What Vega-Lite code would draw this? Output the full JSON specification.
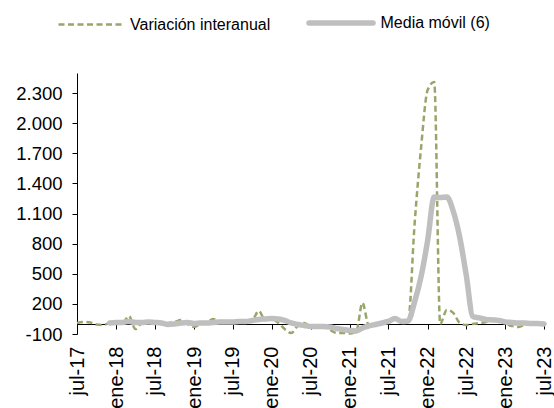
{
 "$schema": "https://vega.github.io/schema/vega-lite/v6.json",
 "width": 467, "height": 261,
 "autosize": "none",
 "padding": {"left": 77, "top": 73, "right": 10, "bottom": 74},
 "config": {"view": {"stroke": null}, "font": "Liberation Sans"},
 "datasets": {
  "var": [
   {"d":"2017-07-01","v":10},{"d":"2017-08-01","v":20},{"d":"2017-09-01","v":15},{"d":"2017-10-01","v":-5},{"d":"2017-11-01","v":-10},{"d":"2017-12-01","v":10},
   {"d":"2018-01-01","v":20},{"d":"2018-02-01","v":10},{"d":"2018-03-01","v":80},{"d":"2018-04-01","v":-50},{"d":"2018-05-01","v":10},{"d":"2018-06-01","v":20},
   {"d":"2018-07-01","v":10},{"d":"2018-08-01","v":0},{"d":"2018-09-01","v":10},{"d":"2018-10-01","v":20},{"d":"2018-11-01","v":40},{"d":"2018-12-01","v":0},
   {"d":"2019-01-01","v":-30},{"d":"2019-02-01","v":0},{"d":"2019-03-01","v":10},{"d":"2019-04-01","v":50},{"d":"2019-05-01","v":20},{"d":"2019-06-01","v":30},
   {"d":"2019-07-01","v":10},{"d":"2019-08-01","v":20},{"d":"2019-09-01","v":30},{"d":"2019-10-01","v":40},{"d":"2019-11-01","v":130},{"d":"2019-12-01","v":40},
   {"d":"2020-01-01","v":50},{"d":"2020-02-01","v":10},{"d":"2020-03-01","v":-50},{"d":"2020-04-01","v":-90},{"d":"2020-05-01","v":-20},{"d":"2020-06-01","v":10},
   {"d":"2020-07-01","v":-20},{"d":"2020-08-01","v":-20},{"d":"2020-09-01","v":-30},{"d":"2020-10-01","v":-60},{"d":"2020-11-01","v":-90},{"d":"2020-12-01","v":-90},
   {"d":"2021-01-01","v":-95},{"d":"2021-02-01","v":-70},{"d":"2021-03-01","v":210},{"d":"2021-04-01","v":-20},{"d":"2021-05-01","v":0},{"d":"2021-06-01","v":20},
   {"d":"2021-07-01","v":40},{"d":"2021-08-01","v":60},{"d":"2021-09-01","v":20},{"d":"2021-10-01","v":20},{"d":"2021-11-01","v":1000},{"d":"2021-12-01","v":1750},
   {"d":"2022-01-01","v":2330},{"d":"2022-02-01","v":2410},{"d":"2022-03-01","v":0},{"d":"2022-04-01","v":140},{"d":"2022-05-01","v":110},{"d":"2022-06-01","v":10},
   {"d":"2022-07-01","v":-10},{"d":"2022-08-01","v":0},{"d":"2022-09-01","v":10},{"d":"2022-10-01","v":20},{"d":"2022-11-01","v":50},{"d":"2022-12-01","v":40},
   {"d":"2023-01-01","v":0},{"d":"2023-02-01","v":-20},{"d":"2023-03-01","v":-30},{"d":"2023-04-01","v":-10},{"d":"2023-05-01","v":0},{"d":"2023-06-01","v":10},
   {"d":"2023-07-01","v":0}
  ],
  "mm": [
   {"d":"2017-12-01","v":10},
   {"d":"2018-01-01","v":15},{"d":"2018-02-01","v":15},{"d":"2018-03-01","v":25},{"d":"2018-04-01","v":15},{"d":"2018-05-01","v":15},{"d":"2018-06-01","v":20},
   {"d":"2018-07-01","v":15},{"d":"2018-08-01","v":10},{"d":"2018-09-01","v":-5},{"d":"2018-10-01","v":0},{"d":"2018-11-01","v":10},{"d":"2018-12-01","v":15},
   {"d":"2019-01-01","v":5},{"d":"2019-02-01","v":10},{"d":"2019-03-01","v":10},{"d":"2019-04-01","v":15},{"d":"2019-05-01","v":20},{"d":"2019-06-01","v":20},
   {"d":"2019-07-01","v":20},{"d":"2019-08-01","v":25},{"d":"2019-09-01","v":25},{"d":"2019-10-01","v":35},{"d":"2019-11-01","v":45},{"d":"2019-12-01","v":50},
   {"d":"2020-01-01","v":55},{"d":"2020-02-01","v":50},{"d":"2020-03-01","v":35},{"d":"2020-04-01","v":10},{"d":"2020-05-01","v":-5},{"d":"2020-06-01","v":-15},
   {"d":"2020-07-01","v":-25},{"d":"2020-08-01","v":-25},{"d":"2020-09-01","v":-25},{"d":"2020-10-01","v":-30},{"d":"2020-11-01","v":-45},{"d":"2020-12-01","v":-55},
   {"d":"2021-01-01","v":-65},{"d":"2021-02-01","v":-70},{"d":"2021-03-01","v":-40},{"d":"2021-04-01","v":-20},{"d":"2021-05-01","v":-5},{"d":"2021-06-01","v":10},
   {"d":"2021-07-01","v":25},{"d":"2021-08-01","v":55},{"d":"2021-09-01","v":25},{"d":"2021-10-01","v":30},{"d":"2021-11-01","v":220},{"d":"2021-12-01","v":470},
   {"d":"2022-01-01","v":830},{"d":"2022-02-01","v":1265},{"d":"2022-03-01","v":1260},{"d":"2022-04-01","v":1265},{"d":"2022-05-01","v":1125},{"d":"2022-06-01","v":860},
   {"d":"2022-07-01","v":490},{"d":"2022-08-01","v":75},{"d":"2022-09-01","v":60},{"d":"2022-10-01","v":45},{"d":"2022-11-01","v":40},{"d":"2022-12-01","v":35},
   {"d":"2023-01-01","v":20},{"d":"2023-02-01","v":15},{"d":"2023-03-01","v":10},{"d":"2023-04-01","v":10},{"d":"2023-05-01","v":5},{"d":"2023-06-01","v":5},
   {"d":"2023-07-01","v":0}
  ]
 },
 "encoding": {
  "x": {
   "field": "d", "type": "temporal",
   "scale": {"type": "utc", "nice": false, "domain": [{"year": 2017, "month": 7, "date": 1, "utc": true}, {"year": 2023, "month": 7, "date": 1, "utc": true}]},
   "axis": {
    "title": null, "grid": false, "offset": -10,
    "values": [
     {"year": 2017, "month": 7, "date": 1, "utc": true}, {"year": 2018, "month": 1, "date": 1, "utc": true},
     {"year": 2018, "month": 7, "date": 1, "utc": true}, {"year": 2019, "month": 1, "date": 1, "utc": true},
     {"year": 2019, "month": 7, "date": 1, "utc": true}, {"year": 2020, "month": 1, "date": 1, "utc": true},
     {"year": 2020, "month": 7, "date": 1, "utc": true}, {"year": 2021, "month": 1, "date": 1, "utc": true},
     {"year": 2021, "month": 7, "date": 1, "utc": true}, {"year": 2022, "month": 1, "date": 1, "utc": true},
     {"year": 2022, "month": 7, "date": 1, "utc": true}, {"year": 2023, "month": 1, "date": 1, "utc": true},
     {"year": 2023, "month": 7, "date": 1, "utc": true}
    ],
    "labelExpr": "['ene','feb','mar','abr','may','jun','jul','ago','sep','oct','nov','dic'][utcmonth(datum.value)] + '-' + utcFormat(datum.value, '%y')",
    "labelAngle": -90, "labelPadding": 17, "labelFontSize": 20, "labelFont": "Liberation Sans", "labelColor": "#000000",
    "labelOverlap": false, "labelFlush": false, "labelBound": false,
    "domainColor": "#000000", "tickColor": "#000000", "tickSize": 5, "domainWidth": 1, "tickWidth": 1
   }
  },
  "y": {
   "field": "v", "type": "quantitative",
   "scale": {"domain": [-100, 2500], "nice": false, "zero": false},
   "axis": {
    "title": null, "grid": false,
    "values": [-100, 200, 500, 800, 1100, 1400, 1700, 2000, 2300],
    "labelExpr": "(datum.value < 0 ? '-' : '') + replace(format(abs(datum.value), ','), ',', '.')",
    "labelPadding": 10, "labelFontSize": 18.5, "labelFont": "Liberation Sans", "labelColor": "#000000",
    "labelOverlap": false, "labelFlush": false,
    "domainColor": "#000000", "tickColor": "#000000", "tickSize": 5
   }
  },
  "color": {
   "field": "s", "type": "nominal",
   "scale": {"domain": ["Variación interanual", "Media móvil (6)"], "range": ["#98A66A", "#BFBFBF"]},
   "legend": {
    "title": null, "orient": "none", "legendX": 5.5, "legendY": -58, "direction": "horizontal",
    "symbolType": "stroke", "symbolSize": 4096, "symbolStrokeWidth": 2, "symbolOffset": 0,
    "labelFontSize": 16, "labelFont": "Liberation Sans", "labelColor": "#000000",
    "columnPadding": 27.5, "labelOffset": 31.5, "padding": 0,
    "encode": {"symbols": {"update": {
     "strokeDash": {"signal": "datum.value === 'Variación interanual' ? [6, 3.5] : [1, 0]"},
     "strokeWidth": {"signal": "datum.value === 'Variación interanual' ? 2.5 : 5.5"},
     "strokeCap": {"signal": "datum.value === 'Variación interanual' ? 'butt' : 'round'"}
    }}}
   }
  }
 },
 "layer": [
  {
   "data": {"name": "var"},
   "transform": [{"calculate": "'Variación interanual'", "as": "s"}],
   "mark": {"type": "line", "interpolate": "monotone", "strokeWidth": 2.5, "strokeDash": [6, 3.5]}
  },
  {
   "data": {"name": "mm"},
   "transform": [{"calculate": "'Media móvil (6)'", "as": "s"}],
   "mark": {"type": "line", "interpolate": "monotone", "strokeWidth": 5.5, "strokeCap": "round", "strokeJoin": "round"}
  }
 ]
}
